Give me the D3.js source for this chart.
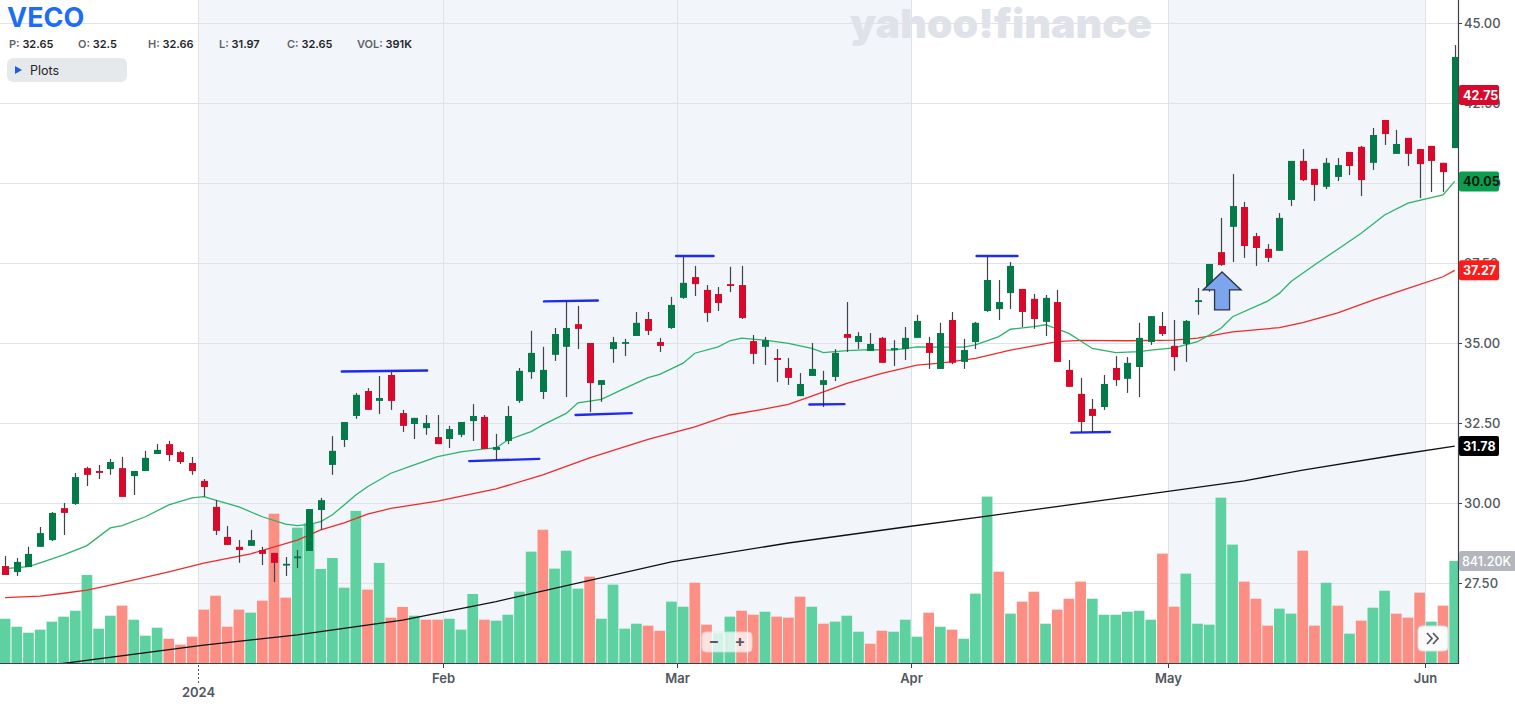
<!DOCTYPE html>
<html><head><meta charset="utf-8">
<script src="https://cdn.jsdelivr.net/npm/d3@7"></script>
<style>body{margin:0;background:#fff;} svg{display:block;font-family:Inter,"Noto Sans",sans-serif;}</style>
</head><body><svg id="c" width="1515" height="704"></svg>
<script>
// ---------- DATA ----------
const monthLabels = ["Dec","2024","Feb","Mar","Apr","May","Jun"];
const monthDays = [17,21,20,20,22,22,3];
const shadedMonths = [1,2,3,5];
const yTicks = [27.5,30,32.5,35,37.5,40,42.5,45];

const open = [28.03,27.84,28.0,28.63,28.84,29.84,29.97,31.09,31.0,31.06,
31.09,30.84,31.0,31.53,31.84,31.59,31.25,30.69,29.88,28.94,
28.63,28.66,28.53,28.44,28.09,28.3,28.5,29.78,31.19,31.97,
32.72,33.5,33.19,34.0,32.81,32.47,32.34,32.06,32.0,32.13,
32.56,32.69,31.66,31.94,33.19,34.09,33.47,34.63,34.88,35.59,
35.0,33.69,34.81,35.02,35.22,35.75,35.03,35.47,36.41,37.06,
36.66,36.53,36.84,36.81,35.06,34.88,34.53,34.22,33.34,33.97,
33.69,33.94,35.28,35.03,34.75,35.16,34.78,34.81,35.16,35.0,
34.19,35.72,34.41,35.03,36.0,36.06,36.56,36.69,36.38,35.66,
36.28,34.16,33.41,32.94,33.0,34.22,33.88,34.25,35.03,35.53,
34.91,34.97,36.28,36.78,37.84,38.63,39.25,38.34,37.94,37.88,
39.47,40.69,40.44,39.88,40.19,40.97,41.13,40.63,41.97,40.91,
41.41,41.06,41.16,40.63,41.09];
const high = [28.34,28.28,28.63,29.25,29.72,30.0,30.94,31.13,31.19,31.38,
31.44,31.0,31.63,31.84,31.94,31.63,31.44,30.75,30.09,29.28,
28.84,29.16,28.63,28.44,28.31,28.53,29.81,30.16,32.09,32.53,
33.44,33.59,33.97,34.09,32.91,32.66,32.75,32.75,32.41,32.53,
33.09,32.75,32.16,33.03,34.22,35.38,34.88,35.47,36.31,36.16,
35.0,33.84,35.19,35.13,35.97,35.97,35.16,36.44,37.69,37.41,
36.81,36.75,37.38,37.41,35.25,35.19,34.81,34.53,34.06,35.0,
34.13,34.81,36.28,35.34,35.31,35.19,35.09,35.5,35.88,35.19,
35.63,35.97,35.13,35.66,37.69,36.97,37.53,36.69,36.53,36.5,
36.66,34.47,33.91,33.25,34.0,34.59,34.56,35.63,35.84,35.97,
35.72,35.72,36.72,37.47,38.91,40.28,39.41,38.44,38.09,39.06,
40.69,41.06,40.44,40.78,40.78,40.97,41.16,41.72,41.97,41.66,
41.41,41.06,41.16,40.63,44.31];
const low = [27.75,27.72,28.0,28.63,28.81,29.0,29.94,30.53,30.75,30.88,
30.19,30.25,31.0,31.53,31.31,31.22,30.88,30.19,29.0,28.69,
28.13,28.66,28.06,27.53,27.72,27.97,28.5,29.16,30.88,31.75,
32.63,32.91,32.78,32.91,32.22,32.0,32.13,31.84,31.72,32.06,
31.94,31.69,31.34,31.84,33.13,33.88,33.25,34.44,33.31,34.81,
32.84,33.16,34.38,34.59,35.22,35.25,34.72,35.44,36.38,36.47,
35.66,36.0,36.59,35.75,34.34,34.31,33.78,33.69,33.34,33.97,
33.0,33.81,34.72,34.81,34.75,34.38,34.28,34.47,35.16,34.19,
34.19,34.34,34.19,34.81,35.97,35.72,36.06,35.5,35.44,35.22,
34.41,33.63,32.19,32.19,32.91,33.66,33.44,33.31,34.94,35.22,
34.13,34.41,35.88,36.6,37.41,37.53,37.66,37.41,37.53,37.88,
39.28,40.06,39.44,39.81,40.06,40.25,39.59,40.41,41.19,40.91,
40.53,39.53,39.72,39.72,41.09];
const close = [27.75,28.16,28.41,29.06,29.69,29.69,30.81,30.88,30.94,31.28,
30.19,31.0,31.41,31.66,31.5,31.28,31.0,30.5,29.13,28.69,
28.53,28.84,28.41,28.13,28.1,28.33,29.81,30.09,31.63,32.53,
33.38,32.91,33.28,33.19,32.41,32.66,32.5,31.84,32.31,32.53,
32.72,31.69,31.75,32.72,34.13,34.69,34.16,35.28,35.47,35.44,
33.75,33.84,35.03,35.03,35.63,35.38,34.91,36.19,36.88,36.84,
35.94,36.25,36.78,35.78,34.66,35.09,34.47,33.91,33.72,34.19,
33.84,34.69,35.16,35.22,34.97,34.38,34.84,35.16,35.69,34.69,
35.31,34.38,34.78,35.63,36.97,36.28,37.41,35.97,35.75,36.41,
34.41,33.63,32.53,32.72,33.72,33.84,34.38,35.16,35.84,35.28,
34.56,35.69,36.34,37.47,37.44,39.28,38.03,37.97,37.66,38.91,
40.69,40.09,39.94,40.63,40.56,40.53,40.09,41.5,41.53,41.22,
40.91,40.59,40.69,40.34,43.94];
// volume in thousands
const volume = [365,299,250,275,341,382,431,726,283,390,
473,357,225,291,200,151,217,440,555,299,
440,415,514,1231,539,1116,1152,775,866,621,
1254,605,825,374,462,390,357,357,365,275,
569,357,349,398,588,918,1099,778,926,613,
712,365,646,283,324,308,266,506,464,662,
316,247,382,431,398,423,382,374,547,464,
324,341,390,258,159,266,258,357,217,415,
299,275,200,572,1372,753,407,506,588,324,
440,530,671,530,398,398,423,431,357,902,
464,737,324,316,1363,976,671,530,308,448,
407,926,308,662,473,242,349,456,596,407,
374,580,341,473,841.2];
const volDir = "gggggggggg"+"rgggrrrrrr"+"rgrrrggggg"+"grgrrgrrgg"+"grggggrggg"+
 "rggggrrggr"+"rggrrgrrrg"+"rgggrrgggr"+"grgggrgrrg"+"rrrggggggr"+"rgggggrrrg"+"grrgrgrggr"+"rrgrg";

const sma20Idx = [0,2,3,5,7,9,10,12,14,16,17,18,20,22,24,25,26,27,28,29,30,31,33,35,37,39,41,42,43,45,46,48,49,51,53,55,56,58,59,61,62,63,65,67,69,70,72,74,76,78,80,82,83,85,86,88,89,91,93,95,97,98,100,102,104,105,108,109,110,112,114,116,118,120,122,123,124];
const sma20Val = [27.95,28.01,28.13,28.38,28.67,29.22,29.29,29.57,29.94,30.16,30.2,30.09,29.88,29.57,29.34,29.29,29.33,29.42,29.63,29.94,30.25,30.51,30.93,31.19,31.45,31.6,31.69,31.72,31.97,32.23,32.44,32.8,33.13,33.24,33.58,33.92,34.02,34.37,34.68,34.88,35.07,35.15,35.09,34.99,34.83,34.7,34.76,34.79,34.78,34.88,34.87,34.87,34.94,35.2,35.43,35.51,35.57,35.3,34.83,34.7,34.73,34.78,34.85,35.04,35.46,35.82,36.31,36.55,36.92,37.44,37.93,38.43,39.0,39.37,39.54,39.63,40.05];
const sma50Idx = [0,3,5,7,10,14,17,21,25,27,29,31,33,37,42,46,50,55,59,62,65,67,69,72,75,78,80,83,86,88,90,92,96,100,102,105,109,111,114,117,120,123,124];
const sma50Val = [27.04,27.09,27.18,27.28,27.51,27.85,28.12,28.41,28.84,29.16,29.38,29.65,29.83,30.06,30.44,30.88,31.41,31.99,32.38,32.75,32.94,33.08,33.34,33.74,34.05,34.31,34.37,34.52,34.78,34.91,35.04,35.08,35.07,35.09,35.15,35.35,35.48,35.64,35.94,36.34,36.71,37.07,37.27];
const sma200Idx = [0,17,25,34,42,57,67,77,84,99,106,111,119,124];
const sma200Val = [24.75,25.56,25.88,26.34,26.92,28.16,28.75,29.25,29.59,30.34,30.69,31.03,31.5,31.78];

// hand-drawn annotations: [startIdx, endIdx, startPrice, endPrice]
const marks = [[28.8,36.1,34.11,34.14],[39.7,45.7,31.31,31.38],[46.1,50.7,36.3,36.33],[48.8,53.6,32.75,32.81],
 [57.4,60.6,37.72,37.72],[68.8,71.8,33.08,33.09],[83.1,86.6,37.72,37.72],[91.2,94.5,32.2,32.22]];
const arrowAt = [104.1, 37.22];

const header = [["P:","32.65"],["O:","32.5"],["H:","32.66"],["L:","31.97"],["C:","32.65"],["VOL:","391K"]];
const tags = [[42.75,"42.75","#d9092b","#fff"],[40.05,"40.05","#0b9e4f","#0b1a10"],[37.27,"37.27","#ff1a1a","#fff"],[31.78,"31.78","#000","#fff"]];
const lastVolTag = "841.20K";

// ---------- CHART ----------
const svg = d3.select("#c");
const plotR = 1458, plotB = 663;
const x = d3.scaleLinear().domain([0,124]).range([5.1,1454.7]);
const step = x(1)-x(0);
const y = d3.scaleLinear().domain([27.5,45]).range([583,23]);
const yv = d3.scaleLinear().domain([0,1400]).range([plotB, plotB-169.8]);

svg.append("defs").append("clipPath").attr("id","pc").append("rect")
  .attr("x",0).attr("y",0).attr("width",plotR).attr("height",plotB);

const cum = d3.cumsum(monthDays);
const bound = k => cum[k-1]-0.5;

// shading
svg.append("g").selectAll("rect").data(shadedMonths).join("rect")
  .attr("x",k=>x(bound(k))).attr("y",0)
  .attr("width",k=>x(bound(k+1))-x(bound(k))).attr("height",plotB)
  .attr("fill","#f2f5f9");

// grid
const grid = svg.append("g").attr("stroke","#dfe2e6").attr("stroke-width",1);
grid.selectAll("line.h").data(yTicks).join("line").attr("class","h")
  .attr("x1",0).attr("x2",plotR).attr("y1",d=>Math.round(y(d))+0.5).attr("y2",d=>Math.round(y(d))+0.5);
grid.selectAll("line.v").data(d3.range(1,monthDays.length)).join("line").attr("class","v")
  .attr("x1",k=>Math.round(x(bound(k)))+0.5).attr("x2",k=>Math.round(x(bound(k)))+0.5)
  .attr("y1",0).attr("y2",plotB);

// watermark
svg.append("text").attr("x",850).attr("y",38).attr("font-size",40).attr("font-weight",900)
  .attr("fill","#dfe3e9").attr("textLength",302).attr("lengthAdjust","spacingAndGlyphs")
  .text("yahoo!finance");

const idx = d3.range(open.length);
const plot = svg.append("g").attr("clip-path","url(#pc)");

// volume
plot.append("g").selectAll("rect").data(idx).join("rect")
  .attr("x",i=>x(i)-step/2+0.5).attr("width",step-1)
  .attr("y",i=>yv(volume[i])).attr("height",i=>plotB-yv(volume[i]))
  .attr("fill",i=>volDir[i]==="g"?"#5dd2a0":"#fc8e84");

// moving averages
const line = d3.line().x(d=>x(d[0])).y(d=>y(d[1]));
const ma = [[sma200Idx,sma200Val,"#111"],[sma50Idx,sma50Val,"#f02a2a"],[sma20Idx,sma20Val,"#2cb36a"]];
ma.forEach(([I,V,c])=>{
  plot.append("path").datum(I.map((d,j)=>[d,V[j]])).attr("d",line)
    .attr("fill","none").attr("stroke",c).attr("stroke-width",1.3);
});

// candles
const cg = plot.append("g");
cg.selectAll("line").data(idx).join("line")
  .attr("x1",i=>Math.round(x(i))+0.5).attr("x2",i=>Math.round(x(i))+0.5)
  .attr("y1",i=>y(high[i])).attr("y2",i=>y(low[i]))
  .attr("stroke","#3e444a").attr("stroke-width",1.2);
cg.selectAll("rect").data(idx).join("rect")
  .attr("x",i=>Math.round(x(i))-3).attr("width",7)
  .attr("y",i=>y(Math.max(open[i],close[i])))
  .attr("height",i=>Math.max(1.8,Math.abs(y(open[i])-y(close[i]))))
  .attr("fill",i=>close[i]>=open[i]?"#047a48":"#d9092b");

// annotations
plot.append("g").selectAll("line").data(marks).join("line")
  .attr("x1",d=>x(d[0])).attr("x2",d=>x(d[1])).attr("y1",d=>y(d[2])).attr("y2",d=>y(d[3]))
  .attr("stroke","#0a14f0").attr("stroke-width",2.4).attr("stroke-linecap","round").attr("opacity",0.9);
const ax = x(arrowAt[0]), ay = y(arrowAt[1]);
svg.append("path")
  .attr("d",`M${ax},${ay} L${ax+19},${ay+18} L${ax+7.5},${ay+18} L${ax+7.5},${ay+38} L${ax-7.5},${ay+38} L${ax-7.5},${ay+18} L${ax-19},${ay+18} Z`)
  .attr("fill","#7ba6ee").attr("stroke","#2c3440").attr("stroke-width",1.3);

// axes lines
svg.append("line").attr("x1",plotR+0.5).attr("x2",plotR+0.5).attr("y1",0).attr("y2",plotB+1).attr("stroke","#3c4248").attr("stroke-width",1.2);
svg.append("line").attr("x1",0).attr("x2",plotR).attr("y1",plotB+0.5).attr("y2",plotB+0.5).attr("stroke","#3c4248").attr("stroke-width",1.2);

// y axis
const yAxis = svg.append("g").attr("transform",`translate(${plotR},0)`)
  .call(d3.axisRight(y).tickValues(yTicks).tickFormat(d3.format(".2f")).tickSize(4).tickPadding(2));
yAxis.select(".domain").remove();
yAxis.selectAll("line").attr("stroke","#3c4248");
yAxis.selectAll("text").attr("font-size",13).attr("fill","#50575e").attr("font-family","Inter,sans-serif").attr("font-weight",500);

// x axis
const xt = svg.append("g");
d3.range(1,monthLabels.length).forEach(k=>{
  const px = Math.round(x(bound(k)))+0.5;
  if (k===1){
    xt.append("line").attr("x1",px).attr("x2",px).attr("y1",plotB+2).attr("y2",plotB+20)
      .attr("stroke","#50575e").attr("stroke-dasharray","2,2");
    xt.append("text").attr("x",px).attr("y",697).attr("text-anchor","middle").attr("font-size",13)
      .attr("font-weight",600).attr("fill","#50575e").text(monthLabels[k]);
  } else {
    xt.append("line").attr("x1",px).attr("x2",px).attr("y1",plotB).attr("y2",plotB+5).attr("stroke","#3c4248");
    xt.append("text").attr("x",px).attr("y",683).attr("text-anchor","middle").attr("font-size",13)
      .attr("font-weight",600).attr("fill","#50575e").text(monthLabels[k]);
  }
});

// right tags
tags.forEach(([v,t,bg,fg])=>{
  const g = svg.append("g").attr("transform",`translate(${plotR+1},${y(v)})`);
  g.append("rect").attr("x",0).attr("y",-10).attr("width",40).attr("height",20).attr("rx",2).attr("fill",bg);
  g.append("text").attr("x",4).attr("y",5).attr("font-size",12.5).attr("font-weight",700).attr("fill",fg).text(t);
});
{
  const g = svg.append("g").attr("transform",`translate(${plotR+1},${yv(volume[volume.length-1])})`);
  g.append("rect").attr("x",0).attr("y",-10).attr("width",57).attr("height",20).attr("rx",2).attr("fill","#b3b7bd");
  g.append("text").attr("x",3).attr("y",5).attr("font-size",12.5).attr("font-weight",500).attr("fill","#fff").text(lastVolTag);
}

// header
svg.append("text").attr("x",7).attr("y",27).attr("font-size",27).attr("font-weight",700)
  .attr("fill","#1d6ff0").attr("font-family","Inter,sans-serif").text("VECO");
const hx = [9,78,148,219,287,357];
header.forEach(([l,v],j)=>{
  const t = svg.append("text").attr("x",hx[j]).attr("y",48).attr("font-size",11);
  t.append("tspan").attr("fill","#5f6368").attr("font-weight",600).text(l+" ");
  t.append("tspan").attr("fill","#1f2429").attr("font-weight",600).text(v);
});
svg.append("rect").attr("x",7).attr("y",58).attr("width",120).attr("height",24).attr("rx",6).attr("fill","#e6e9ec");
svg.append("path").attr("d","M15,66 L22,70 L15,74 Z").attr("fill","#1d5fd6");
svg.append("text").attr("x",30).attr("y",75).attr("font-size",12.5).attr("fill","#1f2429").text("Plots");

// zoom controls
svg.append("rect").attr("x",702).attr("y",632).attr("width",50).attr("height",20).attr("rx",4)
  .attr("fill","#ffffff").attr("opacity",0.75).attr("stroke","#e3e6ea");
svg.append("line").attr("x1",727).attr("x2",727).attr("y1",634).attr("y2",650).attr("stroke","#e0e3e7");
svg.append("text").attr("x",714).attr("y",647).attr("text-anchor","middle").attr("font-size",16).attr("font-weight",700).attr("fill","#555b61").text("−");
svg.append("text").attr("x",740).attr("y",647).attr("text-anchor","middle").attr("font-size",16).attr("font-weight",700).attr("fill","#555b61").text("+");
svg.append("rect").attr("x",1418).attr("y",626).attr("width",30).attr("height",25).attr("rx",4)
  .attr("fill","#fbfbfc").attr("stroke","#dcdfe3");
svg.append("path").attr("d","M1427,633 L1432,638.5 L1427,644 M1433,633 L1438,638.5 L1433,644")
  .attr("fill","none").attr("stroke","#555b61").attr("stroke-width",1.8);
</script></body></html>
